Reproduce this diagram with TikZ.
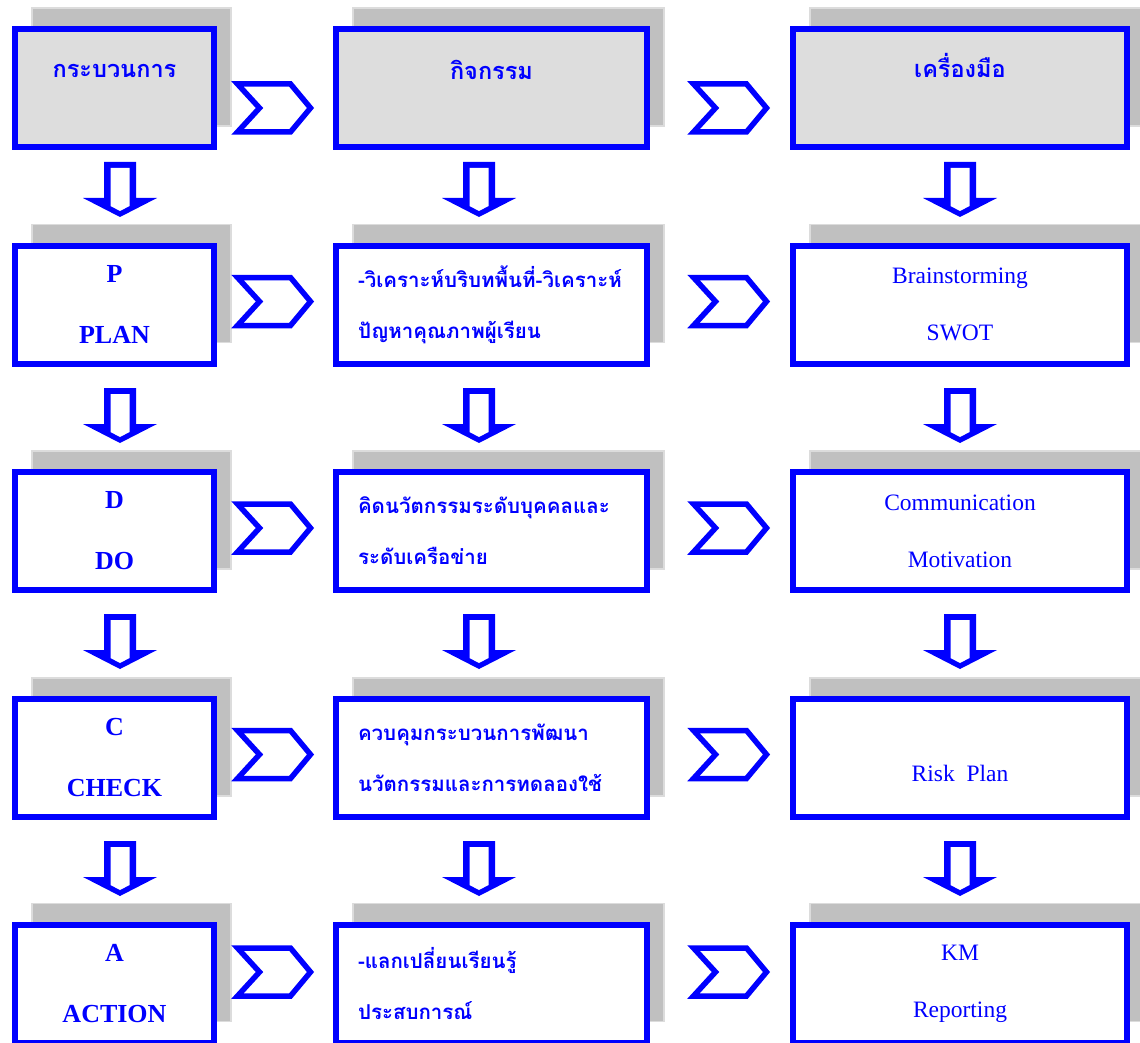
\documentclass[tikz,border=0pt]{standalone}
\usepackage{fontspec}
\setmainfont{Liberation Serif}
\newfontfamily\thaifont[Script=Thai]{Loma}
\usetikzlibrary{positioning, shadows}
\definecolor{pdcablue}{RGB}{0,0,255}
\definecolor{shadegray}{RGB}{192,192,192}
\definecolor{shadeline}{RGB}{220,220,220}
\definecolor{headgray}{RGB}{221,221,221}
\tikzset{
  card/.style={draw=pdcablue, line width=6pt, fill=white, minimum height=118pt, inner sep=0pt, align=center,
    general shadow={shadow xshift=17pt, shadow yshift=21pt, fill=shadegray, draw=shadeline, line width=1.5pt}},
  headcard/.style={card, fill=headgray, font=\thaifont\bfseries\fontsize{23.5}{26}\selectfont},
  chevron/.pic={
    \draw[pdcablue, line width=5.5pt, fill=white, line join=miter]
      (-37,-24) -- (16,-24) -- (36,0) -- (16,24) -- (-37,24) -- (-15,0) -- cycle;
  },
  downarr/.pic={
    \fill[pdcablue] (-16,0) -- (16,0) -- (16,36) -- (37,36) -- (0,55) -- (-37,36) -- (-16,36) -- cycle;
    \fill[white] (-9.5,6) -- (9.5,6) -- (9.5,44) -- (0,49) -- (-9.5,44) -- cycle;
  }
}

\begin{document}
\begin{tikzpicture}[
    x=1pt, y=-1pt,
    every node/.style={text=pdcablue},
    procbox/.style={card, minimum width=199pt, font=\bfseries\fontsize{26}{61}\selectfont},
    actbox/.style={card, minimum width=311pt, text width=267pt, inner xsep=22pt, align=left,
      font=\thaifont\bfseries\fontsize{20.5}{51}\selectfont},
    toolbox/.style={card, minimum width=334pt, font=\fontsize{23.5}{57}\selectfont}
  ]
  \useasboundingbox (0,0) rectangle (1140,1043);

  % header row
  \node[headcard, minimum width=199pt] (hproc) at (114.5,88) {กระบวนการ\\ \strut};
  \node[headcard, minimum width=311pt] (hact) at (491.5,88) {กิจกรรม\\[2pt] \strut};
  \node[headcard, minimum width=334pt] (htool) at (960,88) {เครื่องมือ\\[12pt] \strut};

  % P D C A
  \node[procbox] (p) at (114.5,304.5) {P\\PLAN};
  \node[procbox] (d) at (114.5,531) {D\\DO};
  \node[procbox] (c) at (114.5,758) {C\\CHECK};
  \node[procbox] (a) at (114.5,983.5) {A\\ACTION};

  \node[actbox] (pact) at (491.5,304.5) {-วิเคราะห์บริบทพื้นที่-วิเคราะห์\\ปัญหาคุณภาพผู้เรียน};
  \node[actbox] (dact) at (491.5,531) {คิดนวัตกรรมระดับบุคคลและ\\ระดับเครือข่าย};
  \node[actbox] (cact) at (491.5,758) {ควบคุมกระบวนการพัฒนา\\นวัตกรรมและการทดลองใช้};
  \node[actbox] (aact) at (491.5,983.5) {-แลกเปลี่ยนเรียนรู้\\ประสบการณ์};

  \node[toolbox] (ptool) at (960,304.5) {Brainstorming\\SWOT};
  \node[toolbox] (dtool) at (960,531) {Communication\\Motivation};
  \node[toolbox, font=\fontsize{23.5}{28}\selectfont] (ctool) at (960,758) {\strut\\Risk~~Plan};
  \node[toolbox] (atool) at (960,983.5) {KM\\Reporting};

  % chevrons between columns
  \pic at (274.5,108) {chevron};
  \pic at (730.5,108) {chevron};
  \pic at (274.5,301.5) {chevron};
  \pic at (730.5,301.5) {chevron};
  \pic at (274.5,528) {chevron};
  \pic at (730.5,528) {chevron};
  \pic at (274.5,754.5) {chevron};
  \pic at (730.5,754.5) {chevron};
  \pic at (274.5,972) {chevron};
  \pic at (730.5,972) {chevron};

  % arrows down each column
  \pic at (120,162) {downarr};
  \pic at (479,162) {downarr};
  \pic at (960,162) {downarr};
  \pic at (120,388) {downarr};
  \pic at (479,388) {downarr};
  \pic at (960,388) {downarr};
  \pic at (120,614) {downarr};
  \pic at (479,614) {downarr};
  \pic at (960,614) {downarr};
  \pic at (120,841) {downarr};
  \pic at (479,841) {downarr};
  \pic at (960,841) {downarr};
\end{tikzpicture}
\end{document}
